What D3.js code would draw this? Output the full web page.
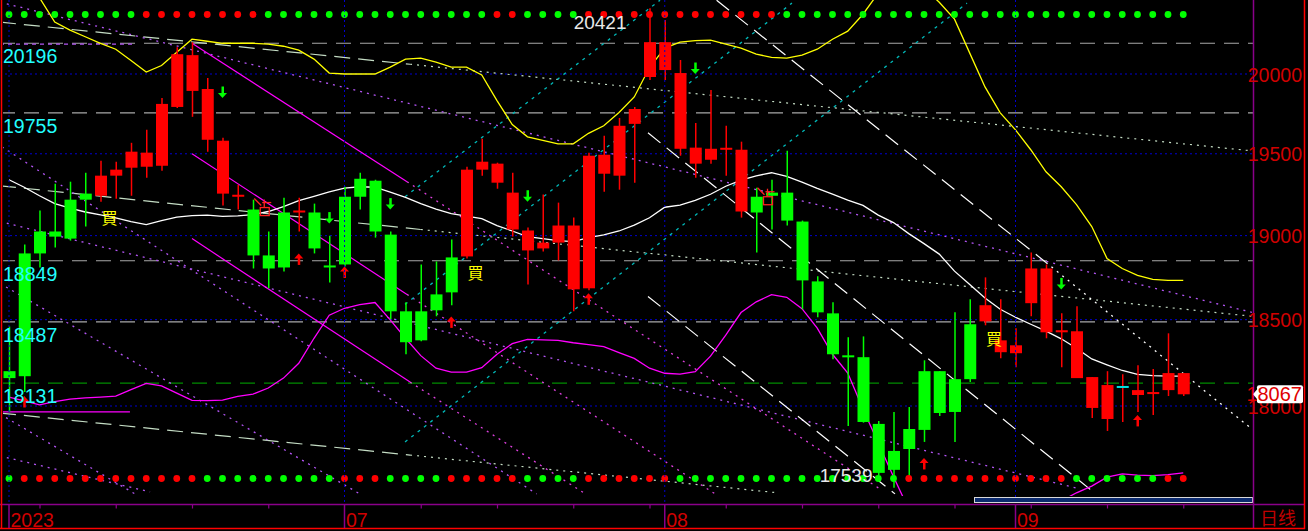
<!DOCTYPE html>
<html><head><meta charset="utf-8">
<script src="https://cdn.jsdelivr.net/npm/d3@7"></script>
<style>html,body{margin:0;padding:0;background:#000;overflow:hidden}</style>
</head><body>
<svg id="c" width="1308" height="531"></svg>
<script>
// ---------------- DATA ----------------
const dates = [
"2023-06-01","2023-06-02","2023-06-05","2023-06-06","2023-06-07","2023-06-08","2023-06-09","2023-06-12","2023-06-13","2023-06-14",
"2023-06-15","2023-06-16","2023-06-19","2023-06-20","2023-06-21","2023-06-22","2023-06-23","2023-06-26","2023-06-27","2023-06-28",
"2023-06-29","2023-06-30","2023-07-03","2023-07-04","2023-07-05","2023-07-06","2023-07-07","2023-07-10","2023-07-11","2023-07-12",
"2023-07-13","2023-07-14","2023-07-17","2023-07-18","2023-07-19","2023-07-20","2023-07-21","2023-07-24","2023-07-25","2023-07-26",
"2023-07-27","2023-07-28","2023-07-31","2023-08-01","2023-08-02","2023-08-03","2023-08-04","2023-08-07","2023-08-08","2023-08-09",
"2023-08-10","2023-08-11","2023-08-14","2023-08-15","2023-08-16","2023-08-17","2023-08-18","2023-08-21","2023-08-22","2023-08-23",
"2023-08-24","2023-08-25","2023-08-28","2023-08-29","2023-08-30","2023-08-31","2023-09-01","2023-09-04","2023-09-05","2023-09-06",
"2023-09-07","2023-09-08","2023-09-11","2023-09-12","2023-09-13","2023-09-14","2023-09-15","2023-09-18"];

const open = [18200,18893,19025,19025,19218,19255,19242,19365,19414,19420,
19426,19792,19893,19587,19255,19230,19158,18881,19140,19134,
19140,18821,19236,19346,19334,19006,18549,18549,18649,18869,
18875,19402,19322,19037,18911,18923,18958,18679,18685,19377,
19365,19686,19981,20025,19531,19439,19463,19519,19146,19236,
19261,19261,19085,18726,18537,18286,18281,17898,17745,17869,
18200,18200,18154,18473,18490,18310,18304,18597,18426,18426,
18160,17989,17926,18109,18063,18063,18091,18067];
const high = [18460,18946,19152,19316,19328,19383,19457,19451,19568,19649,
19849,20171,20203,19975,19599,19310,19218,19025,19230,19230,
19194,19000,19297,19383,19340,19025,18602,18827,18845,18976,
19420,19593,19445,19383,19049,19249,19200,19109,19507,19612,
19723,19792,20421,20345,20089,19692,19899,19674,19575,19291,
19340,19519,19091,18756,18602,18397,18402,17915,17966,17994,
18263,18200,18543,18620,18750,18620,18450,18899,18827,18537,
18579,18166,18200,18183,18235,18212,18420,18189];
const low = [17966,18080,18809,18929,18970,19055,19206,19224,19242,19352,
19396,19786,19730,19513,19182,19158,18803,18685,18785,19025,
18893,18720,18815,19158,18988,18502,18298,18373,18520,18585,
18863,19365,19285,18994,18708,18905,18851,18549,18673,19267,
19279,19322,19962,19962,19488,19352,19439,19365,19109,18899,
19037,19061,18561,18514,18269,17886,17905,17610,17539,17594,
17796,17943,17796,18137,18467,18275,18223,18520,18391,18223,
18160,17932,17858,17909,17966,17949,18057,18057];
const close = [18160,18171,18893,18994,18982,19218,19365,19402,19513,19507,
19811,20126,20120,19905,19581,19242,18881,18803,18809,19146,
18923,18809,18827,19236,19025,18549,18368,18379,18555,18661,
19402,19451,19439,19261,19031,18958,19061,19061,19488,19494,
19674,19779,20203,20203,20006,19538,19531,19531,19525,19140,
19242,19091,18732,18543,18298,18275,17909,17622,17639,17756,
17864,17960,17966,18154,18585,18379,18350,18803,18803,18438,
18432,18166,18120,18109,18091,18074,18189,18189];

// overlay curves (one value per bar)
const upperBand = [20680,20580,20490,20332,20280,20238,20195,20158,20086,20012,
20054,20139,20222,20209,20196,20196,20196,20190,20177,20152,
20095,20006,20000,20000,20000,20044,20095,20101,20076,20044,
20044,19994,19832,19682,19605,19583,19562,19562,19627,19674,
19757,19855,20041,20165,20203,20213,20216,20190,20165,20127,
20106,20101,20120,20158,20222,20274,20383,20520,20571,20604,
20552,20461,20351,20133,19918,19755,19649,19525,19389,19297,
19188,19055,18863,18803,18762,18738,18732,18732];
const midLine = [19340,19294,19242,19194,19167,19143,19126,19108,19085,19067,
19091,19112,19121,19124,19117,19120,19127,19146,19176,19212,
19238,19265,19288,19297,19294,19264,19232,19194,19161,19133,
19118,19103,19061,19028,18994,18982,18970,18964,18988,19004,
19028,19064,19108,19172,19185,19214,19251,19300,19337,19364,
19383,19361,19325,19287,19252,19215,19183,19124,19079,19012,
18952,18889,18787,18707,18628,18561,18514,18473,18433,18388,
18333,18271,18237,18204,18182,18174,18171,18171];
const lowerBand = [18051,18029,18006,18025,18039,18046,18051,18057,18094,18130,
18115,18074,18032,18031,18034,18055,18068,18103,18160,18246,
18391,18526,18567,18588,18601,18499,18391,18290,18217,18195,
18195,18220,18298,18360,18385,18382,18379,18365,18354,18342,
18308,18274,18217,18188,18183,18197,18287,18409,18542,18605,
18647,18632,18565,18450,18298,18189,17983,17790,17600,17420,
17310,17260,17240,17240,17260,17290,17320,17365,17420,17466,
17511,17548,17598,17616,17609,17607,17612,17622];

// indicator rows (G = green, R = red)
const topSignal = ("GGGGGGGGG" + "RRRRRRRR" + "GGGGGGGGGGGGGGG" + "RR" + "GGGG" +
  "RRRRRRRRRRRRR" + "GGGGGGGGGGGGGGGGGGGGGGGGGGG").split("");
const bottomSignal = ("G" + "RRRRRRRRRRRR" + "GGGGGGGGG" + "RRR" + "GGGG" + "RRRRR" + "GGGG" +
  "RRRRRR" + "GGGGGGGGGGGGGGG" + "RRRRRRRRRRR" + "GGGGGG" + "RR").split("");

// trend lines [fromIndex, fromPrice, toIndex, toPrice]
const magentaSolid = [[12,20196,26.1,19328],[12,19500,26.1,18649],[12,18982,26.3,18137]];
const magentaDotted = [[26.1,19328,57.1,17533],[26.1,18649,46.3,17505],[26.3,18137,37.8,17505]];
const violetDotted = [[-0.59,20461,81.5,18543],[-0.59,18714,23.0,17505],[-0.59,17717,9.25,17516],
  [-0.59,17954,8.26,17505],[-0.59,19085,70.2,17533],[-0.46,19543,34.6,17505]];
const violetShort = [[-0.59,20190,8.13,20190]];
const magentaShort = [[-0.46,17966,7.93,17966]];
const paleDashed = [[-0.59,20332,26.3,20062],[-0.59,19303,27.0,19037],[-0.59,17960,26.3,17722]];
const paleDotted = [[26.3,20062,81.4,19519],[27.0,19037,81.5,18520],[26.3,17722,50.4,17511]];
const whiteDashed = [[46.4,20474,68.0,18839],[41.9,19630,71.1,17516],[41.9,18637,58.1,17505]];
const whiteDotted = [[68.0,18839,81.5,17869]];
const cyanLines = [[25.97,19236,42.69,20474],[25.97,18590,51.34,20455],[25.97,17796,62.82,20455]];

// price levels
const grayLevels = [20196,19755,18849,18487];
const greenLevel = 18131;
const levelLabels = [20196,19755,18849,18487,18131];
const yTicks = [18000,18500,19000,19500,20000];

// signals [index, price]
const upArrows = [[1,18023],[19,18857],[22,18779],[29,18484],[38,18620],[60,17672],[74,17915]];
const downArrows = [[14,19886],[21,19109],[25,19194],[34,19242],[45,20038],[69,18714]];
const buySignals = [[6,19115],[30,18779],[64,18391]];
const flagMarks = [[17,19170],[50,19236]];
const highLabel = {index:42, value:20421};
const lowLabel = {index:58, value:17539};
const lastPrice = 18067;
const periodLabel = "日线";

// ---------------- CHART ----------------
const W = 1308, H = 531;
const n = dates.length;
const svg = d3.select("#c");
const FONT = "'Liberation Sans', Arial, sans-serif";
svg.append("rect").attr("width", W).attr("height", H).attr("fill", "#000");

const xi = d3.scaleLinear().domain([0, n - 1]).range([9, 1183.25]);
const y = d3.scaleLog().domain([18000, 20000]).range([406, 74]);

svg.append("defs").append("clipPath").attr("id", "plot")
  .append("rect").attr("x", 3).attr("y", 0).attr("width", 1250).attr("height", 496);

const plot = svg.append("g").attr("clip-path", "url(#plot)");

const parse = d3.timeParse("%Y-%m-%d");
const dd = dates.map(parse);
const monthStarts = d3.range(n).filter(i => i === 0 || dd[i].getMonth() !== dd[i - 1].getMonth());
const mondays = d3.range(n).filter(i => dd[i].getDay() === 1 && !monthStarts.includes(i));

// grid: horizontal blue dotted
plot.selectAll(".hg").data(yTicks).enter().append("line")
  .attr("x1", 0).attr("x2", 1253).attr("y1", d => y(d)).attr("y2", d => y(d))
  .attr("stroke", "#0000d0").attr("stroke-dasharray", "2,3");
// vertical month grid
svg.selectAll(".vg").data(monthStarts).enter().append("line")
  .attr("x1", d => xi(d)).attr("x2", d => xi(d)).attr("y1", 0).attr("y2", 504)
  .attr("stroke", "#0000d0").attr("stroke-dasharray", "2,3");

// level lines
plot.selectAll(".lv").data(grayLevels).enter().append("line")
  .attr("x1", 0).attr("x2", 1253).attr("y1", d => y(d)).attr("y2", d => y(d))
  .attr("stroke", "#a8a8a8").attr("stroke-width", 1.2).attr("stroke-dasharray", "15,9");
plot.append("line").attr("x1", 0).attr("x2", 1253).attr("y1", y(greenLevel)).attr("y2", y(greenLevel))
  .attr("stroke", "#008c00").attr("stroke-width", 1.2).attr("stroke-dasharray", "15,9");

function segs(arr, color, dash, width) {
  plot.append("g").selectAll("line").data(arr).enter().append("line")
    .attr("x1", d => xi(d[0])).attr("y1", d => y(d[1]))
    .attr("x2", d => xi(d[2])).attr("y2", d => y(d[3]))
    .attr("stroke", color).attr("stroke-width", width || 1)
    .attr("stroke-dasharray", dash);
}
segs(paleDashed, "#c4dcc4", "16,8", 1.2);
segs(paleDotted, "#c4dcc4", "2,5", 1.2);
segs(violetDotted, "#b455f5", "2,5", 1.3);
segs(violetShort, "#b455f5", "4,4", 1.3);
segs(magentaShort, "#ff00ff", null, 1.2);
segs(magentaSolid, "#ff00ff", null, 1.2);
segs(magentaDotted, "#e040e0", "2,5", 1.3);
segs(whiteDashed, "#ffffff", "16,8", 1.2);
segs(whiteDotted, "#ffffff", "2,5", 1.3);
segs(cyanLines, "#00b8b8", "3,5", 1.3);

// curves
const lineGen = d3.line().x((d, i) => xi(i)).y(d => y(d));
plot.append("path").attr("d", lineGen(upperBand)).attr("fill", "none").attr("stroke", "#ffff00").attr("stroke-width", 1.3);
plot.append("path").attr("d", lineGen(midLine)).attr("fill", "none").attr("stroke", "#ffffff").attr("stroke-width", 1.3);
plot.append("path").attr("d", lineGen(lowerBand)).attr("fill", "none").attr("stroke", "#ff00ff").attr("stroke-width", 1.3);

// candles
const bars = d3.range(n).map(i => ({i, o: open[i], h: high[i], l: low[i], c: close[i]}));
const col = d => d.c > d.o ? "#ff0000" : (d.c < d.o ? "#00ff00" : "#ff0000");
const cg = plot.append("g");
cg.selectAll(".wick").data(bars).enter().append("line")
  .attr("x1", d => xi(d.i) + 0.5).attr("x2", d => xi(d.i) + 0.5)
  .attr("y1", d => y(d.h)).attr("y2", d => y(d.l))
  .attr("stroke", col).attr("stroke-width", 1.5);
cg.selectAll(".body").data(bars).enter().append("rect")
  .attr("x", d => xi(d.i) - 5.5).attr("width", 12)
  .attr("y", d => Math.min(y(d.o), y(d.c)) - (Math.abs(y(d.o) - y(d.c)) < 2 ? 1 : 0))
  .attr("height", d => Math.max(2, Math.abs(y(d.o) - y(d.c))))
  .attr("fill", d => d.c === d.o ? "#00e0e0" : col(d));

// signal dots
function dotRow(sig, yy) {
  plot.append("g").selectAll("circle").data(sig).enter().append("circle")
    .attr("cx", (d, i) => xi(i)).attr("cy", yy).attr("r", 3.4)
    .attr("fill", d => d === "G" ? "#00ff00" : "#ff0000");
}
dotRow(topSignal, 14.5);
dotRow(bottomSignal, 478.5);

// arrows
const ag = plot.append("g");
upArrows.forEach(([i, v]) => {
  const cx = xi(i), cy = y(v);
  ag.append("path").attr("d", `M${cx},${cy-6} L${cx-4.5},${cy-1} L${cx+4.5},${cy-1} Z`).attr("fill", "#ff0000");
  ag.append("rect").attr("x", cx - 1).attr("y", cy - 1.5).attr("width", 2.5).attr("height", 7).attr("fill", "#ff0000");
});
downArrows.forEach(([i, v]) => {
  const cx = xi(i), cy = y(v);
  ag.append("path").attr("d", `M${cx},${cy+6} L${cx-4.5},${cy+1} L${cx+4.5},${cy+1} Z`).attr("fill", "#00ff00");
  ag.append("rect").attr("x", cx - 1).attr("y", cy - 5.5).attr("width", 2.5).attr("height", 7).attr("fill", "#00ff00");
});
// buy labels
plot.selectAll(".buy").data(buySignals).enter().append("text")
  .attr("x", d => xi(d[0]) + 1).attr("y", d => y(d[1]))
  .attr("dominant-baseline", "central")
  .attr("font-family", "'Noto Sans CJK TC','Noto Sans CJK SC',sans-serif")
  .attr("font-size", 16).attr("fill", "#ffff00").text("買");
// flag marks
flagMarks.forEach(([i, v]) => {
  const cx = xi(i), ty = y(v);
  const g = plot.append("g").attr("stroke", "#ff2020").attr("fill", "none").attr("stroke-width", 1.3);
  g.append("rect").attr("x", cx - 8).attr("y", ty).attr("width", 9).attr("height", 8);
  g.append("line").attr("x1", cx - 6).attr("x2", cx + 3).attr("y1", ty - 5).attr("y2", ty - 5);
  g.append("line").attr("x1", cx - 4).attr("x2", cx - 4).attr("y1", ty - 8).attr("y2", ty);
  g.append("line").attr("x1", cx - 14).attr("x2", cx - 7).attr("y1", ty - 9).attr("y2", ty - 2);
});

// high / low labels
svg.append("text").attr("x", xi(highLabel.index) - 23).attr("y", y(highLabel.value) + 21)
  .attr("text-anchor", "end").attr("font-family", FONT).attr("font-size", 19).attr("fill", "#e8e8e8")
  .text(highLabel.value);
svg.append("text").attr("x", xi(lowLabel.index) - 21).attr("y", y(lowLabel.value) - 6)
  .attr("text-anchor", "end").attr("font-family", FONT).attr("font-size", 19).attr("fill", "#e8e8e8")
  .text(lowLabel.value);

// level labels (left, cyan)
svg.selectAll(".ll").data(levelLabels).enter().append("text")
  .attr("x", 3).attr("y", d => y(d) + 20)
  .attr("font-family", FONT).attr("font-size", 19.5).attr("fill", "#22ffff")
  .text(d => d);

// blue bar bottom right
svg.append("rect").attr("x", 974.5).attr("y", 497.5).attr("width", 278).attr("height", 5)
  .attr("fill", "#0b2a6e").attr("stroke", "#d8d8d8").attr("stroke-width", 1);

// frame
svg.append("line").attr("x1", 0).attr("x2", 1305).attr("y1", 504.5).attr("y2", 504.5).attr("stroke", "#8a008a").attr("stroke-width", 1.5);
svg.append("line").attr("x1", 1253.5).attr("x2", 1253.5).attr("y1", 0).attr("y2", 528).attr("stroke", "#8a008a").attr("stroke-width", 1.5);
svg.append("line").attr("x1", 1.5).attr("x2", 1.5).attr("y1", 0).attr("y2", 529).attr("stroke", "#ff0000").attr("stroke-width", 1.5);
svg.append("line").attr("x1", 1304.5).attr("x2", 1304.5).attr("y1", 0).attr("y2", 529).attr("stroke", "#ff0000").attr("stroke-width", 1.5);
svg.append("line").attr("x1", 0).attr("x2", 1305).attr("y1", 528.5).attr("y2", 528.5).attr("stroke", "#ff0000").attr("stroke-width", 1.5);

// x axis
const xAxis = d3.axisBottom(xi).tickValues(mondays).tickSize(4).tickFormat("");
const xg = svg.append("g").attr("transform", "translate(0,504.5)").call(xAxis);
xg.select(".domain").remove();
xg.selectAll("line").attr("stroke", "#8a008a").attr("stroke-width", 1.2);
svg.selectAll(".mt").data(monthStarts).enter().append("line")
  .attr("x1", d => xi(d)).attr("x2", d => xi(d)).attr("y1", 504).attr("y2", 528)
  .attr("stroke", "#8a008a").attr("stroke-width", 1.5);
svg.selectAll(".ml").data(monthStarts).enter().append("text")
  .attr("x", d => xi(d) + 1.5).attr("y", 526.5)
  .attr("font-family", FONT).attr("font-size", 19.5).attr("fill", "#d00000")
  .text(d => d === 0 ? d3.timeFormat("%Y")(dd[d]) : d3.timeFormat("%m")(dd[d]));

// y axis (right)
const yAxis = d3.axisLeft(y).tickValues(yTicks).tickSize(0).tickFormat(d3.format("d"));
const yg = svg.append("g").attr("transform", "translate(1302,0)").call(yAxis);
yg.select(".domain").remove();
yg.selectAll("text").attr("font-family", FONT).attr("font-size", 19.5).attr("fill", "#d00000")
  .attr("x", 0).attr("dy", "0.36em").attr("text-anchor", "end");

// last price tag
const ly = y(lastPrice);
svg.append("path").attr("d", `M1253,${ly} L1258,${ly-6} L1258,${ly+6} Z`).attr("fill", "#ffffff");
svg.append("rect").attr("x", 1257).attr("y", ly - 9).attr("width", 46).attr("height", 18).attr("rx", 2).attr("fill", "#ffffff");
svg.append("text").attr("x", 1302).attr("y", ly).attr("dy", "0.36em").attr("text-anchor", "end")
  .attr("font-family", FONT).attr("font-size", 20).attr("fill", "#e00000").text(lastPrice);

// period label
svg.append("text").attr("x", 1278).attr("y", 525).attr("text-anchor", "middle")
  .attr("font-family", "'Noto Sans CJK SC',sans-serif").attr("font-size", 18).attr("fill", "#c00000")
  .text(periodLabel);
</script>
</body></html>
